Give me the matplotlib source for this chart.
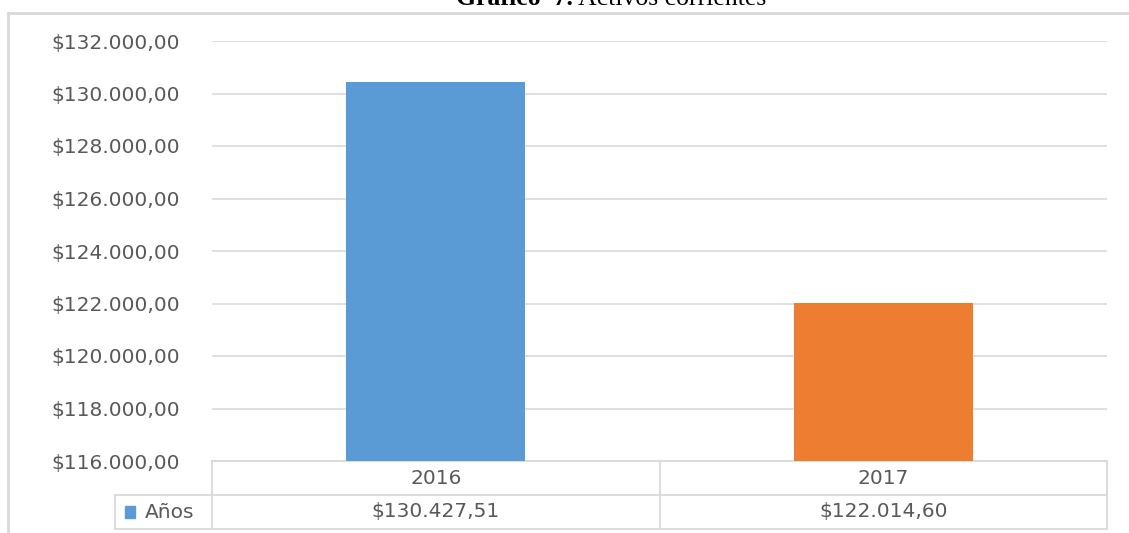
import numpy as np
import matplotlib.pyplot as plt
from matplotlib.lines import Line2D
from matplotlib.patches import Rectangle
from matplotlib.ticker import FuncFormatter, MultipleLocator

years = ['2016', '2017']
values = [130427.51, 122014.60]
colors = ['#5B9BD5', '#ED7D31']
series_name = 'Años'

plt.rcParams['font.family'] = ['DejaVu Sans']
grey_txt = '#595959'
grey_line = '#D9D9D9'
fs = 14.5

def money(v, pos=None):
    s = f'{v:,.2f}'
    s = s.replace(',', 'X').replace('.', ',').replace('X', '.')
    return '$' + s

W, H = 1129, 533
fig = plt.figure(figsize=(W / 100, H / 100), dpi=100)
ax = fig.add_axes([212 / W, (H - 461) / H, (1107 - 212) / W, (461 - 41) / H])

x = np.arange(len(years))
ax.bar(x, values, width=0.4, color=colors, zorder=3)
ax.set_xlim(-0.5, 1.5)
ax.set_ylim(116000, 132000)
ax.yaxis.set_major_locator(MultipleLocator(2000))
ax.yaxis.set_major_formatter(FuncFormatter(money))
ax.grid(axis='y', color=grey_line, linewidth=1.2, zorder=0)
for s in ax.spines.values():
    s.set_visible(False)
ax.set_xticks([])
ax.tick_params(axis='y', length=0, pad=23, labelsize=fs, labelcolor=grey_txt)

# data table under the plot
tr = ax.get_xaxis_transform()
rh = 34 / 420
left_lab = -0.5 - 97 / 447.5
lw = 1.3
def hline(x0, x1, y):
    ax.add_line(Line2D([x0, x1], [y, y], transform=tr, color=grey_line, lw=lw, clip_on=False))
def vline(xx, y0, y1):
    ax.add_line(Line2D([xx, xx], [y0, y1], transform=tr, color=grey_line, lw=lw, clip_on=False))

hline(-0.5, 1.5, 0)
hline(left_lab, 1.5, -rh)
hline(left_lab, 1.5, -2 * rh)
vline(-0.5, 0, -2 * rh)
vline(0.5, 0, -2 * rh)
vline(1.5, 0, -2 * rh)
vline(left_lab, -rh, -2 * rh)
for i, (yr, v) in enumerate(zip(years, values)):
    ax.text(i, -rh / 2, yr, transform=tr, ha='center', va='center', fontsize=fs, color=grey_txt)
    ax.text(i, -1.5 * rh, money(v), transform=tr, ha='center', va='center', fontsize=fs, color=grey_txt)
ax.add_patch(Rectangle((left_lab + 0.022, -1.5 * rh - 0.014), 0.022, 0.028, transform=tr,
                       color=colors[0], clip_on=False))
ax.text(left_lab + 0.066, -1.5 * rh, series_name, transform=tr, ha='left', va='center',
        fontsize=fs, color=grey_txt)

# chart border
fig.add_artist(Line2D([8 / W, 1], [1 - 13 / H, 1 - 13 / H], color=grey_line, lw=2))
fig.add_artist(Line2D([8 / W, 8 / W], [0, 1 - 13 / H], color=grey_line, lw=2))

# caption (partly cut off at the top, as in the source page)
fig.text(573 / W, 1 - 5 / H, 'Gráfico  7.', fontsize=18.5, family='Liberation Serif',
         weight='bold', ha='right', va='baseline')
fig.text(573 / W, 1 - 5 / H, ' Activos corrientes', fontsize=18.5, family='Liberation Serif',
         ha='left', va='baseline')

fig.savefig('out.png', dpi=100)
